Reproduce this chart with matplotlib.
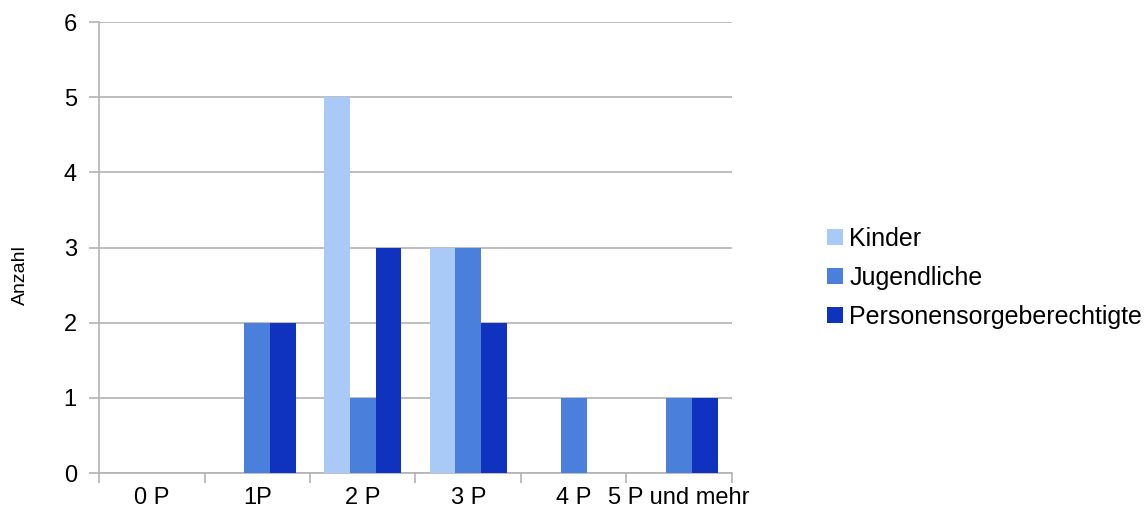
import numpy as np
import matplotlib
matplotlib.use('Agg')
import matplotlib.pyplot as plt

plt.rcParams['font.family'] = ['Liberation Sans', 'DejaVu Sans']

categories = ['0 P', '1P', '2 P', '3 P', '4 P', '5 P und mehr']
series = ['Kinder', 'Jugendliche', 'Personensorgeberechtigte']
kinder = [0, 0, 5, 3, 0, 0]
jugendliche = [0, 2, 1, 3, 1, 1]
personen = [0, 2, 3, 2, 0, 1]
colors = ['#a9c9f7', '#4a7fdc', '#0f33bf']

fig = plt.figure(figsize=(11.46, 5.24), dpi=100)
ax = fig.add_axes([0.0864, 0.097, 0.5523, 0.861])

xs = np.arange(len(categories))
w = 0.244
handles = []
for i, (vals, c) in enumerate(zip([kinder, jugendliche, personen], colors)):
    handles.append(ax.bar(xs + (i - 1) * w, vals, width=w, color=c, zorder=3))

ax.set_xlim(-0.5, len(categories) - 0.5)
ax.set_ylim(0, 6)
ax.set_yticks(range(0, 7))
ax.yaxis.grid(True, color='#b3b3b3', linewidth=1.2, zorder=0)

# category boundaries get the tick marks, labels sit in the middle
ax.set_xticks(np.arange(-0.5, len(categories), 1.0))
ax.set_xticklabels([])
ax.set_xticks(xs, minor=True)
ax.set_xticklabels(categories, minor=True, fontsize=17)
ax.tick_params(axis='x', which='minor', length=0, pad=10)
ax.tick_params(axis='x', which='major', length=7, color='#b3b3b3', width=1.2)
ax.tick_params(axis='y', length=7, color='#b3b3b3', width=1.2, labelsize=17, pad=9)

for s in ['top', 'right']:
    ax.spines[s].set_visible(False)
for s in ['left', 'bottom']:
    ax.spines[s].set_color('#b3b3b3')
    ax.spines[s].set_linewidth(1.2)

ax.set_ylabel('Anzahl', fontsize=14, labelpad=25, y=0.44)

fig.legend(handles, series, loc='center left', bbox_to_anchor=(0.702, 0.47),
           frameon=False, fontsize=18, handlelength=0.65, handleheight=0.65,
           handletextpad=0.25, labelspacing=0.6)

fig.savefig('out.png', dpi=100)
